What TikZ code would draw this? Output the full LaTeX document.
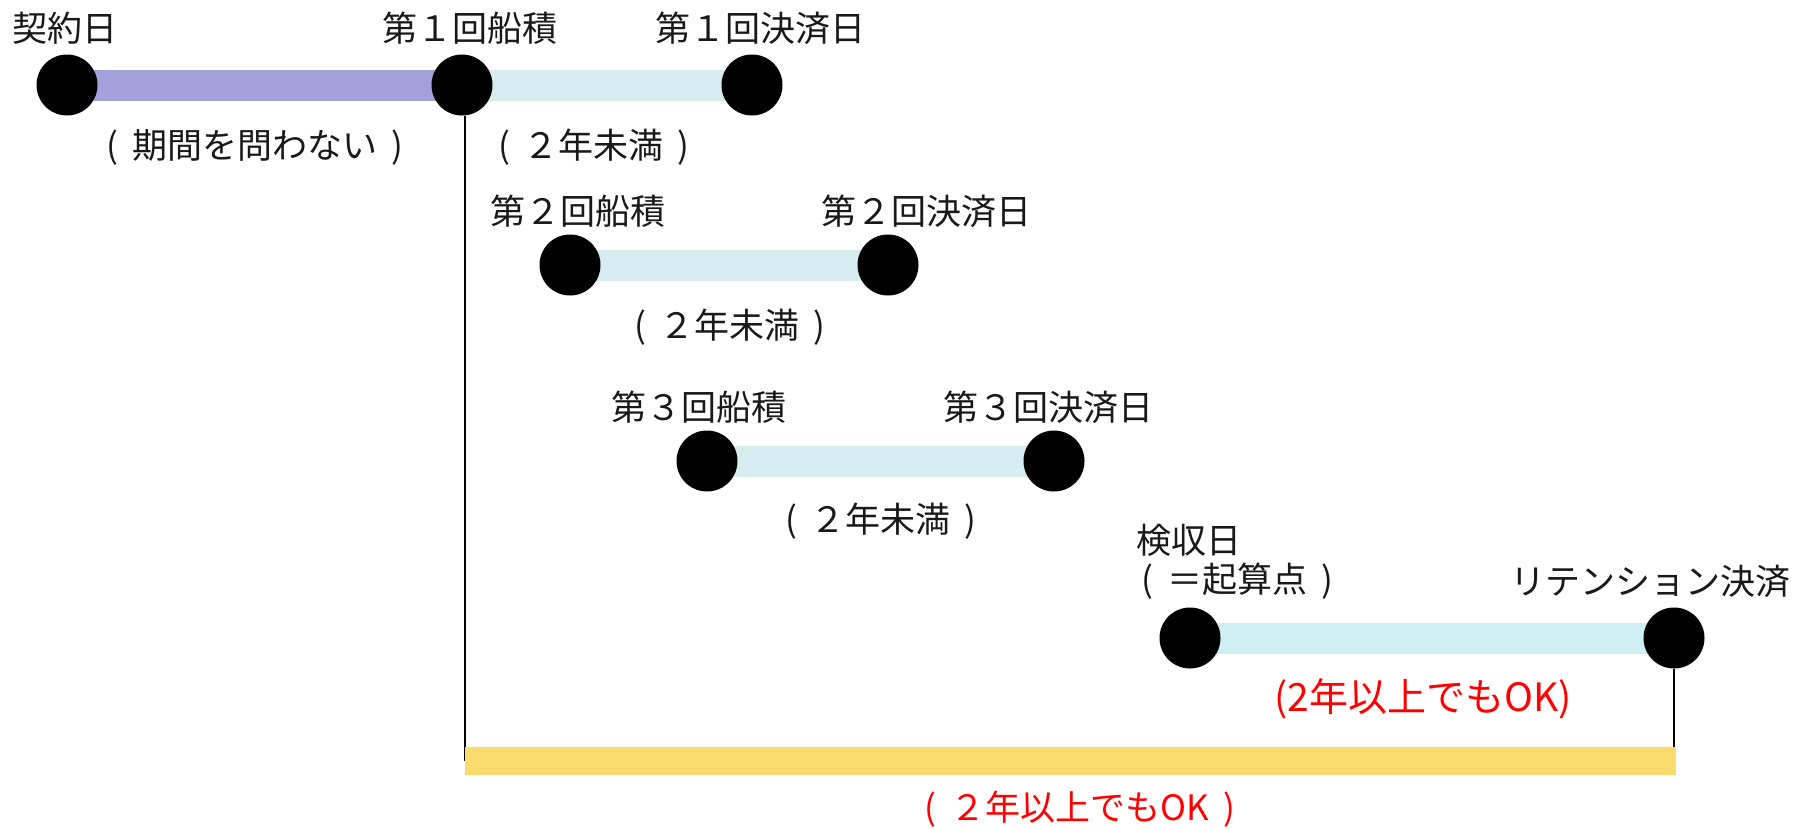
\documentclass[tikz,border=0pt]{standalone}
\usepackage{fontspec}
\newfontfamily\jp{Noto Sans CJK JP}
\usetikzlibrary{backgrounds}
\definecolor{barpurple}{HTML}{A3A1DC}
\definecolor{barteal}{HTML}{D6ECEE}
\definecolor{barcyan}{HTML}{CFF0F2}
\definecolor{baryellow}{HTML}{F9DB6E}
\definecolor{redtext}{HTML}{FF0000}
\newcommand{\lpar}{(\hspace{0.4em}}
\newcommand{\rpar}{\hspace{0.4em})}
\begin{document}
\begin{tikzpicture}[x=1pt,y=-1pt,
  dot/.style={circle, fill=black, minimum size=61pt, inner sep=0pt},
  lbl/.style={font=\jp\fontsize{35}{40}\selectfont, inner sep=0pt, text=black!90},
  redlbl/.style={font=\jp\fontsize{35}{40}\selectfont, inner sep=0pt, text=redtext},
  barline/.style={line width=31pt},
  linkline/.style={line width=1.6pt, black}]
\useasboundingbox (0,0) rectangle (1817,828);
% dots
\node[dot] (k)  at (67,85) {};
\node[dot] (s1) at (462,85) {};
\node[dot] (p1) at (752,85) {};
\node[dot] (s2) at (570,265) {};
\node[dot] (p2) at (888,265) {};
\node[dot] (s3) at (707,461) {};
\node[dot] (p3) at (1054,461) {};
\node[dot] (a)  at (1190,638) {};
\node[dot] (r)  at (1674,638) {};
% yellow bar
\node[fill=baryellow, minimum width=1211pt, minimum height=28pt, inner sep=0pt] (yb) at (1070,761) {};
% labels
\node[lbl] (tk)  at (65,28) {契約日};
\node[lbl] (ts1) at (470,28) {第１回船積};
\node[lbl] (tp1) at (760,28) {第１回決済日};
\node[lbl] (m0)  at (255,147) {\lpar 期間を問わない\rpar};
\node[lbl] (m1)  at (594,147) {\lpar ２年未満\rpar};
\node[lbl] (ts2) at (578,211) {第２回船積};
\node[lbl] (tp2) at (926,211) {第２回決済日};
\node[lbl] (m2)  at (730,327) {\lpar ２年未満\rpar};
\node[lbl] (ts3) at (699,407) {第３回船積};
\node[lbl] (tp3) at (1048,407) {第３回決済日};
\node[lbl] (m3)  at (881,521) {\lpar ２年未満\rpar};
\node[lbl, anchor=west] (ta)  at (1136,540) {検収日};
\node[lbl, anchor=west] (ta2) at (1141,581) {\lpar ＝起算点\rpar};
\node[lbl] (tr)  at (1650,581) {リテンション決済};
\node[redlbl, font=\jp\fontsize{39}{44}\selectfont] (m4) at (1423,699) {(2年以上でもOK)};
\node[redlbl] (m5) at (1080,809) {\lpar ２年以上でもOK\rpar};
% bars and links behind
\begin{scope}[on background layer]
\fill[white] (0,0) rectangle (1817,828);
\draw[barline, barpurple] (k.center) -- (s1.center);
\draw[barline, barteal] (s1.center) -- (p1.center);
\draw[barline, barteal] (s2.center) -- (p2.center);
\draw[barline, barteal] (s3.center) -- (p3.center);
\draw[barline, barcyan] (a.center) -- (r.center);
\draw[linkline] ([xshift=3pt]s1.south) -- ([xshift=3pt]s1.south |- yb.center);
\draw[linkline] (r) -- (r |- yb.center);
\end{scope}
\end{tikzpicture}
\end{document}
